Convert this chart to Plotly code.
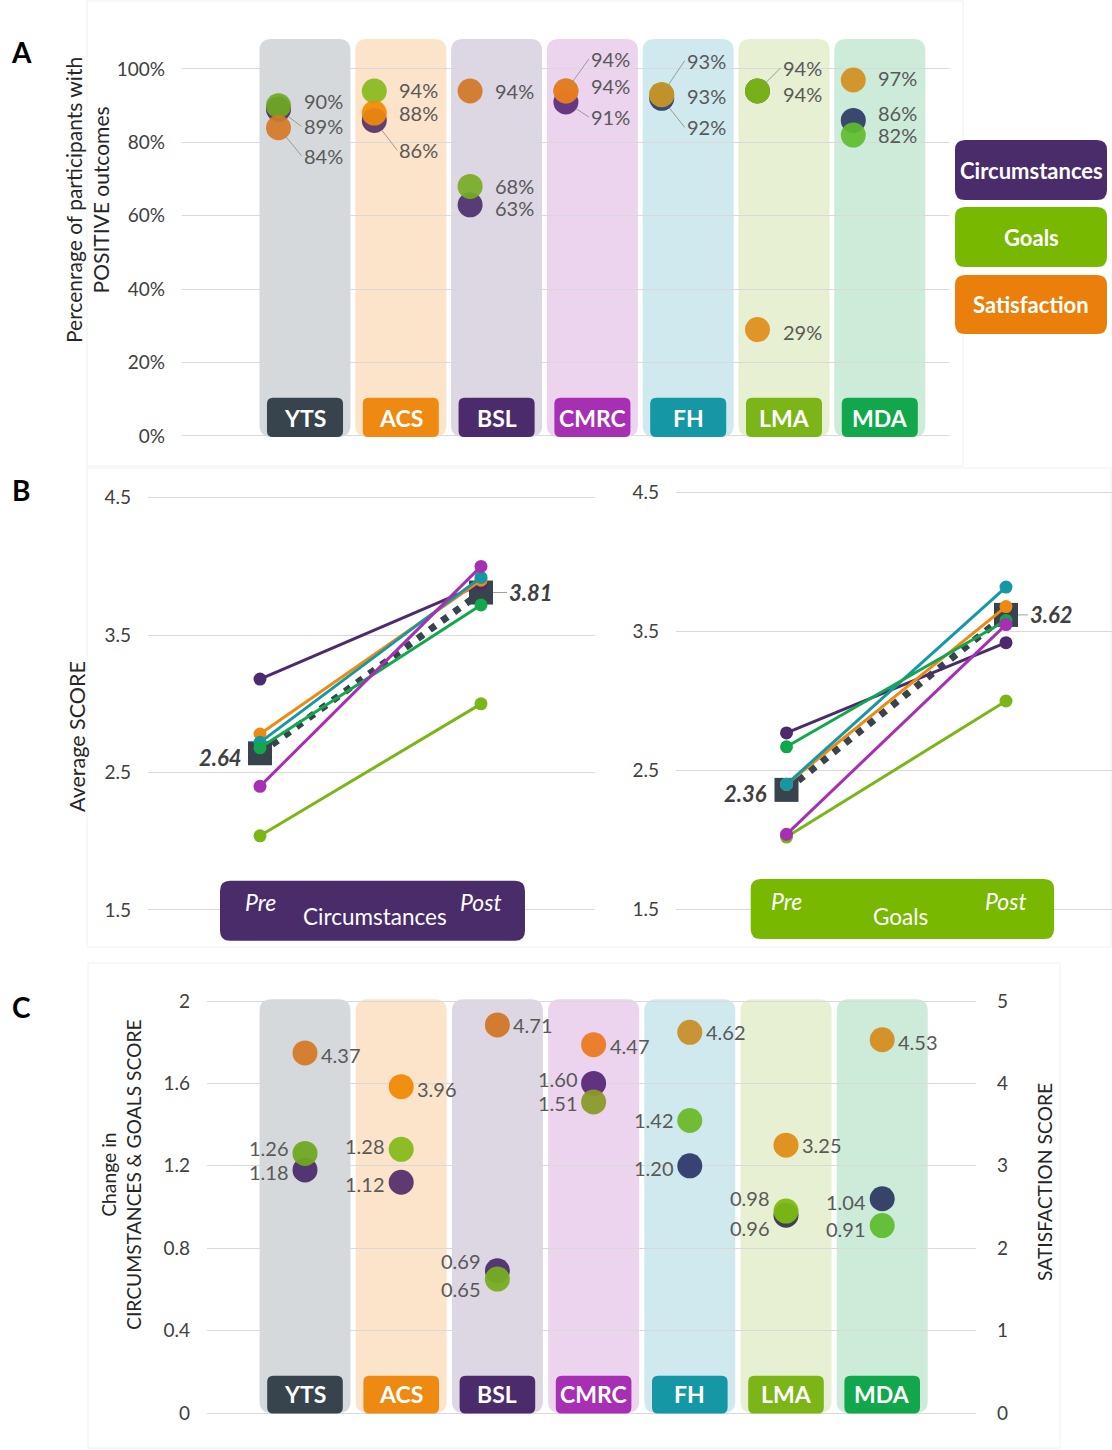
import plotly.graph_objects as go

W, H = 1112, 1450
FONT = "Lato"

# ---------------- DATA ----------------
programs = ["YTS", "ACS", "BSL", "CMRC", "FH", "LMA", "MDA"]
series_names = ["Circumstances", "Goals", "Satisfaction"]

# Panel A: percentage of participants with positive outcomes
pos_circumstances = [89, 86, 63, 91, 92, 94, 86]
pos_goals = [90, 94, 68, 94, 93, 94, 82]
pos_satisfaction = [84, 88, 94, 94, 93, 29, 97]

# Panel B: average score pre / post
stage_labels = ["Pre", "Post"]
circ_pre = [2.64, 2.78, 3.18, 2.40, 2.72, 2.04, 2.68]
circ_post = [3.81, 3.90, 3.87, 4.00, 3.92, 3.00, 3.72]
goals_pre = [2.36, 2.40, 2.77, 2.04, 2.40, 2.02, 2.67]
goals_post = [3.62, 3.68, 3.42, 3.55, 3.82, 3.00, 3.58]

# Panel C: change in scores and satisfaction score
chg_circumstances = [1.18, 1.12, 0.69, 1.60, 1.20, 0.96, 1.04]
chg_goals = [1.26, 1.28, 0.65, 1.51, 1.42, 0.98, 0.91]
satisfaction_score = [4.37, 3.96, 4.71, 4.47, 4.62, 3.25, 4.53]

pct_ticks = [0, 20, 40, 60, 80, 100]
score_ticks = [1.5, 2.5, 3.5, 4.5]
change_ticks = [0, 0.4, 0.8, 1.2, 1.6, 2]
sat_ticks = [0, 1, 2, 3, 4, 5]

# ---------------- STYLE ----------------
PROG_COLORS = ["#37434d", "#ee8a12", "#4b2b6b", "#a62fb3", "#1597a5", "#7cb518", "#12a74c"]
PROG_BG = ["#d5d9dc", "#fbe4ca", "#dcd7e2", "#ecd4ee", "#cfe9ee", "#e7f0d2", "#cdebd9"]
CIRC_DOT = ["#4a2d6a", "#55306a", "#4b2f6d", "#5a2a78", "#2f3a6c", "#33384f", "#2f3a64"]
GOAL_DOT = ["#70a922", "#86bb1c", "#77ad22", "#8a9a2a", "#6db82a", "#7cba14", "#5fbd2f"]
SAT_DOT = ["#d57a26", "#f08a06", "#d07726", "#ec7a22", "#c98f2a", "#e08d18", "#d48e20"]
C_CIRC, C_GOAL, C_SAT = "#4b2c6b", "#78b800", "#ea7f0c"
GRID = "#d9d9d9"
TICK = "#404040"
LABEL = "#595959"

# label offsets (pixels) - style only
A_SHIFT = {
    "circ": [-17, -30, -3, -15, -29, -3, 7],
    "goal": [5, 1, 0, 32, 34, 23, 0],
    "sat": [-28, 0, 0, 5, -1, -2, 2],
}
C_SHIFT = {
    "circ": [-2, -2, 10, 4, -2, -13, -3],
    "goal": [5, 3, -10, -1, 0, 13, -3],
    "sat": [-2, -2, 0, -1, 0, 0, -2],
}


def py(p):
    return 1 - p / H


def pxp(p):
    return p / W


def rrect(x0, x1, y0, y1, rx, ry):
    return (f"M{x0+rx},{y0} L{x1-rx},{y0} Q{x1},{y0} {x1},{y0+ry} "
            f"L{x1},{y1-ry} Q{x1},{y1} {x1-rx},{y1} L{x0+rx},{y1} "
            f"Q{x0},{y1} {x0},{y1-ry} L{x0},{y0+ry} Q{x0},{y0} {x0+rx},{y0} Z")


def rrect_px(x0, y0, x1, y1, r):
    return rrect(pxp(x0), pxp(x1), py(y1), py(y0), r / W, r / H)


# ---------------- GEOMETRY ----------------
A_C0, A_STEP, A_XPX = 305, 95.8, (182, 949)
A_ZERO, A_S = 436, 3.67
A_YR = [-0.5, 108.3]
a_xr = [(A_XPX[0] - A_C0) / A_STEP, (A_XPX[1] - A_C0) / A_STEP]
a_yd = [py(A_ZERO - A_YR[0] * A_S), py(A_ZERO - A_YR[1] * A_S)]
A_DOT_OFF = -26.5 / A_STEP

B_YR = [1.25, 4.51]
B1_PRE, B1_STEP, B1_XPX, B1_Y15, B1_S = 260, 221, (148, 595), 910, 137.43
B2_PRE, B2_STEP, B2_XPX, B2_Y15, B2_S = 786.5, 219.5, (676, 1112), 909.3, 138.87
b1_xr = [(B1_XPX[0] - B1_PRE) / B1_STEP, (B1_XPX[1] - B1_PRE) / B1_STEP]
b2_xr = [(B2_XPX[0] - B2_PRE) / B2_STEP, (B2_XPX[1] - B2_PRE) / B2_STEP]
b1_yd = [py(B1_Y15 + (1.5 - B_YR[0]) * B1_S), py(B1_Y15 - (B_YR[1] - 1.5) * B1_S)]
b2_yd = [py(B2_Y15 + (1.5 - B_YR[0]) * B2_S), py(B2_Y15 - (B_YR[1] - 1.5) * B2_S)]

C_C0, C_STEP, C_XPX = 305, 96.2, (207, 976)
C_ZERO, C_S = 1413, 206
C_YR = [-0.01, 2.02]
c_xr = [(C_XPX[0] - C_C0) / C_STEP, (C_XPX[1] - C_C0) / C_STEP]
c_yd = [py(C_ZERO - C_YR[0] * C_S), py(C_ZERO - C_YR[1] * C_S)]
SAT_RATIO = 2.5

fig = go.Figure()
shapes = []
ann = []
idx = list(range(len(programs)))


def paper_text(xp, yp, text, size, color, angle=0):
    return dict(x=pxp(xp), y=py(yp), xref="paper", yref="paper", text=text,
                showarrow=False, xanchor="center", yanchor="middle", textangle=angle,
                font=dict(size=size, color=color, family=FONT))


# ---------- Panel A ----------
for i in idx:
    shapes.append(dict(type="path", xref="x", yref="y", layer="below",
                       path=rrect(i - 0.475, i + 0.475, -0.3, 108.2, 12 / A_STEP, 12 / A_S),
                       fillcolor=PROG_BG[i], line=dict(width=0)))
    shapes.append(dict(type="path", xref="x", yref="y", layer="above",
                       path=rrect(i - 0.397, i + 0.397, -0.3, 10.4, 6 / A_STEP, 6 / A_S),
                       fillcolor=PROG_COLORS[i], line=dict(width=0)))
    ann.append(dict(x=i, y=5.0, xref="x", yref="y", text=f"<b>{programs[i]}</b>",
                    xanchor="center", yanchor="middle",
                    showarrow=False, font=dict(size=23, color="white", family=FONT)))

a_series = [("circ", pos_circumstances, CIRC_DOT), ("goal", pos_goals, GOAL_DOT),
            ("sat", pos_satisfaction, SAT_DOT)]
for (key, vals, cols), name in zip(a_series, series_names):
    fig.add_trace(go.Scatter(x=[i + A_DOT_OFF for i in idx], y=vals, mode="markers",
                             marker=dict(size=25, color=cols, opacity=0.92),
                             name=name, xaxis="x", yaxis="y", hoverinfo="skip", showlegend=False))
    for i in idx:
        sh = A_SHIFT[key][i]
        base = dict(x=i + A_DOT_OFF, y=vals[i], xref="x", yref="y", text=f"{vals[i]}%",
                    xanchor="left", yanchor="middle",
                    font=dict(size=20, color=LABEL, family=FONT))
        if abs(sh) >= 10:
            base.update(showarrow=True, ax=23, ay=-sh, arrowhead=0, arrowwidth=1,
                        arrowcolor="#9a9a9a", standoff=12)
        else:
            base.update(showarrow=False, xshift=23, yshift=sh)
        ann.append(base)

# ---------- Panel B ----------
b_order = [0, 2, 1, 4, 6, 5, 3]
for xa, ya, pre, post in [("x2", "y2", circ_pre, circ_post), ("x3", "y3", goals_pre, goals_post)]:
    for i in b_order:
        if i == 0:
            fig.add_trace(go.Scatter(x=[0, 1], y=[pre[i], post[i]], mode="lines+markers",
                                     line=dict(color=PROG_COLORS[i], width=7, dash="7px,8px"),
                                     marker=dict(symbol="square", size=24, color=PROG_COLORS[i]),
                                     xaxis=xa, yaxis=ya, hoverinfo="skip", showlegend=False,
                                     name=programs[i]))
        else:
            fig.add_trace(go.Scatter(x=[0, 1], y=[pre[i], post[i]], mode="lines+markers",
                                     line=dict(color=PROG_COLORS[i], width=3),
                                     marker=dict(symbol="circle", size=13, color=PROG_COLORS[i]),
                                     xaxis=xa, yaxis=ya, hoverinfo="skip", showlegend=False,
                                     name=programs[i]))

for xa, ya, pre, post, xs_pre, ax_post in [("x2", "y2", circ_pre, circ_post, -16, 26),
                                          ("x3", "y3", goals_pre, goals_post, -18, 22)]:
    ann.append(dict(x=0, y=pre[0], xref=xa, yref=ya, text=f"<b><i>{pre[0]:.2f}</i></b>",
                    showarrow=False, xanchor="right", yanchor="middle", xshift=xs_pre, yshift=-4,
                    font=dict(size=22, color=TICK, family=FONT)))
    ann.append(dict(x=1, y=post[0], xref=xa, yref=ya, text=f"<b><i>{post[0]:.2f}</i></b>",
                    showarrow=True, ax=ax_post, ay=0, xanchor="left", yanchor="middle",
                    arrowhead=0, arrowwidth=1, arrowcolor="#a0a0a0", standoff=12,
                    font=dict(size=22, color=TICK, family=FONT)))

for xa, ya, x0, x1, y0, y1, sx, sy, col, title in [
        ("x2", "y2", -0.181, 1.199, 1.277, 1.713, B1_STEP, B1_S, C_CIRC, "Circumstances"),
        ("x3", "y3", -0.163, 1.219, 1.286, 1.718, B2_STEP, B2_S, C_GOAL, "Goals")]:
    shapes.append(dict(type="path", xref=xa, yref=ya, layer="above",
                       path=rrect(x0, x1, y0, y1, 10 / sx, 10 / sy),
                       fillcolor=col, line=dict(width=0)))
    ann.append(dict(x=0.5, y=1.5, xref=xa, yref=ya, text=title, showarrow=False, yshift=-7,
                    xshift=4, xanchor="center", yanchor="middle",
                    font=dict(size=22.5, color="white", family=FONT)))
    for k, lab in enumerate(stage_labels):
        ann.append(dict(x=k, y=1.5, xref=xa, yref=ya, text=f"<i>{lab}</i>", showarrow=False,
                        yshift=8, xshift=0, xanchor="center", yanchor="middle",
                        font=dict(size=23, color="white", family=FONT)))

# ---------- Panel C ----------
for i in idx:
    shapes.append(dict(type="path", xref="x4", yref="y4", layer="below",
                       path=rrect(i - 0.473, i + 0.473, 0.0, 2.008, 12 / C_STEP, 12 / C_S),
                       fillcolor=PROG_BG[i], line=dict(width=0)))
    shapes.append(dict(type="path", xref="x4", yref="y4", layer="above",
                       path=rrect(i - 0.393, i + 0.393, -0.002, 0.181, 6 / C_STEP, 6 / C_S),
                       fillcolor=PROG_COLORS[i], line=dict(width=0)))
    ann.append(dict(x=i, y=0.09, xref="x4", yref="y4", text=f"<b>{programs[i]}</b>",
                    xanchor="center", yanchor="middle",
                    showarrow=False, font=dict(size=23, color="white", family=FONT)))

for key, vals, cols, name in [("circ", chg_circumstances, CIRC_DOT, "Circumstances"),
                              ("goal", chg_goals, GOAL_DOT, "Goals")]:
    fig.add_trace(go.Scatter(x=idx, y=vals, mode="markers",
                             marker=dict(size=25, color=cols, opacity=0.95),
                             xaxis="x4", yaxis="y4", hoverinfo="skip", showlegend=False, name=name))
    for i in idx:
        ann.append(dict(x=i, y=vals[i], xref="x4", yref="y4", text=f"{vals[i]:.2f}",
                        showarrow=False, xanchor="right", yanchor="middle", xshift=-14,
                        yshift=C_SHIFT[key][i],
                        font=dict(size=20, color=LABEL, family=FONT)))

fig.add_trace(go.Scatter(x=idx, y=satisfaction_score, mode="markers",
                         marker=dict(size=25, color=SAT_DOT, opacity=0.95),
                         xaxis="x4", yaxis="y5", hoverinfo="skip", showlegend=False,
                         name="Satisfaction"))
for i in idx:
    ann.append(dict(x=i, y=satisfaction_score[i], xref="x4", yref="y5",
                    text=f"{satisfaction_score[i]:.2f}", showarrow=False, xanchor="left",
                    yanchor="middle", xshift=14, yshift=C_SHIFT["sat"][i],
                    font=dict(size=20, color=LABEL, family=FONT)))

# ---------- Legend boxes ----------
for (y0, y1), col, name in zip([(140, 200), (207, 267), (275, 334)],
                               [C_CIRC, C_GOAL, C_SAT], series_names):
    shapes.append(dict(type="path", xref="paper", yref="paper", layer="above",
                       path=rrect_px(955, y0, 1107, y1, 10), fillcolor=col, line=dict(width=0)))
    ann.append(paper_text(1031, (y0 + y1) / 2, f"<b>{name}</b>", 22, "white"))

# ---------- faint panel frames ----------
for x0, y0, x1, y1 in [(87, 1, 963, 466), (87, 468, 1111, 947), (88, 963, 1060, 1448)]:
    shapes.append(dict(type="rect", xref="paper", yref="paper", layer="below",
                       x0=pxp(x0), x1=pxp(x1), y0=py(y1), y1=py(y0),
                       line=dict(color="#f0f0f0", width=1), fillcolor="rgba(0,0,0,0)"))

# ---------- titles & panel letters ----------
for letter, yy in [("A", 52), ("B", 490), ("C", 1007)]:
    ann.append(paper_text(21, yy, f"<b>{letter}</b>", 28, "black"))

ann.append(paper_text(87, 200, "Percenrage of participants with<br>POSITIVE outcomes", 21,
                      "#262626", -90))
ann.append(paper_text(77, 737, "Average SCORE", 21.5, "#262626", -90))
ann.append(paper_text(121, 1175, "Change in<br>CIRCUMSTANCES &amp; GOALS SCORE", 19.3,
                      "#262626", -90))
ann.append(paper_text(1044, 1182, "SATISFACTION SCORE", 19.3, "#262626", -90))

hidden_x = dict(showgrid=False, showticklabels=False, zeroline=False, showline=False,
                ticks="", fixedrange=True)
ybase = dict(gridcolor=GRID, gridwidth=1.3, zeroline=False, showline=False, ticks="",
             fixedrange=True, ticklabelstandoff=16, automargin=False)

fig.update_layout(
    width=W, height=H,
    margin=dict(l=0, r=0, t=0, b=0, pad=0),
    paper_bgcolor="white", plot_bgcolor="rgba(0,0,0,0)",
    font=dict(family=FONT, color=TICK),
    showlegend=False,
    xaxis=dict(domain=[pxp(A_XPX[0]), pxp(A_XPX[1])], range=a_xr, anchor="y", **hidden_x),
    yaxis=dict(domain=a_yd, range=A_YR, tickvals=pct_ticks,
               ticktext=[f"{v}%" for v in pct_ticks], anchor="x",
               tickfont=dict(size=19, color=TICK, family=FONT), **ybase),
    xaxis2=dict(domain=[pxp(B1_XPX[0]), pxp(B1_XPX[1])], range=b1_xr, anchor="y2", **hidden_x),
    yaxis2=dict(domain=b1_yd, range=B_YR, tickvals=score_ticks, anchor="x2",
                tickfont=dict(size=19, color=TICK, family=FONT), **ybase),
    xaxis3=dict(domain=[pxp(B2_XPX[0]), pxp(B2_XPX[1])], range=b2_xr, anchor="y3", **hidden_x),
    yaxis3=dict(domain=b2_yd, range=B_YR, tickvals=score_ticks, anchor="x3",
                tickfont=dict(size=19, color=TICK, family=FONT), **ybase),
    xaxis4=dict(domain=[pxp(C_XPX[0]), pxp(C_XPX[1])], range=c_xr, anchor="y4", **hidden_x),
    yaxis4=dict(domain=c_yd, range=C_YR, tickvals=change_ticks, anchor="x4",
                tickfont=dict(size=19, color=TICK, family=FONT), **ybase),
    yaxis5=dict(overlaying="y4", side="right", anchor="x4",
                range=[v * SAT_RATIO for v in C_YR], tickvals=sat_ticks, showgrid=False,
                zeroline=False, showline=False, ticks="", fixedrange=True, automargin=False,
                ticklabelstandoff=20, tickfont=dict(size=19, color=TICK, family=FONT)),
    shapes=shapes,
    annotations=ann,
)

fig.write_html("out.html", config={"displayModeBar": False},
               post_script="document.body.style.margin='0px';document.body.style.overflow='hidden';")
